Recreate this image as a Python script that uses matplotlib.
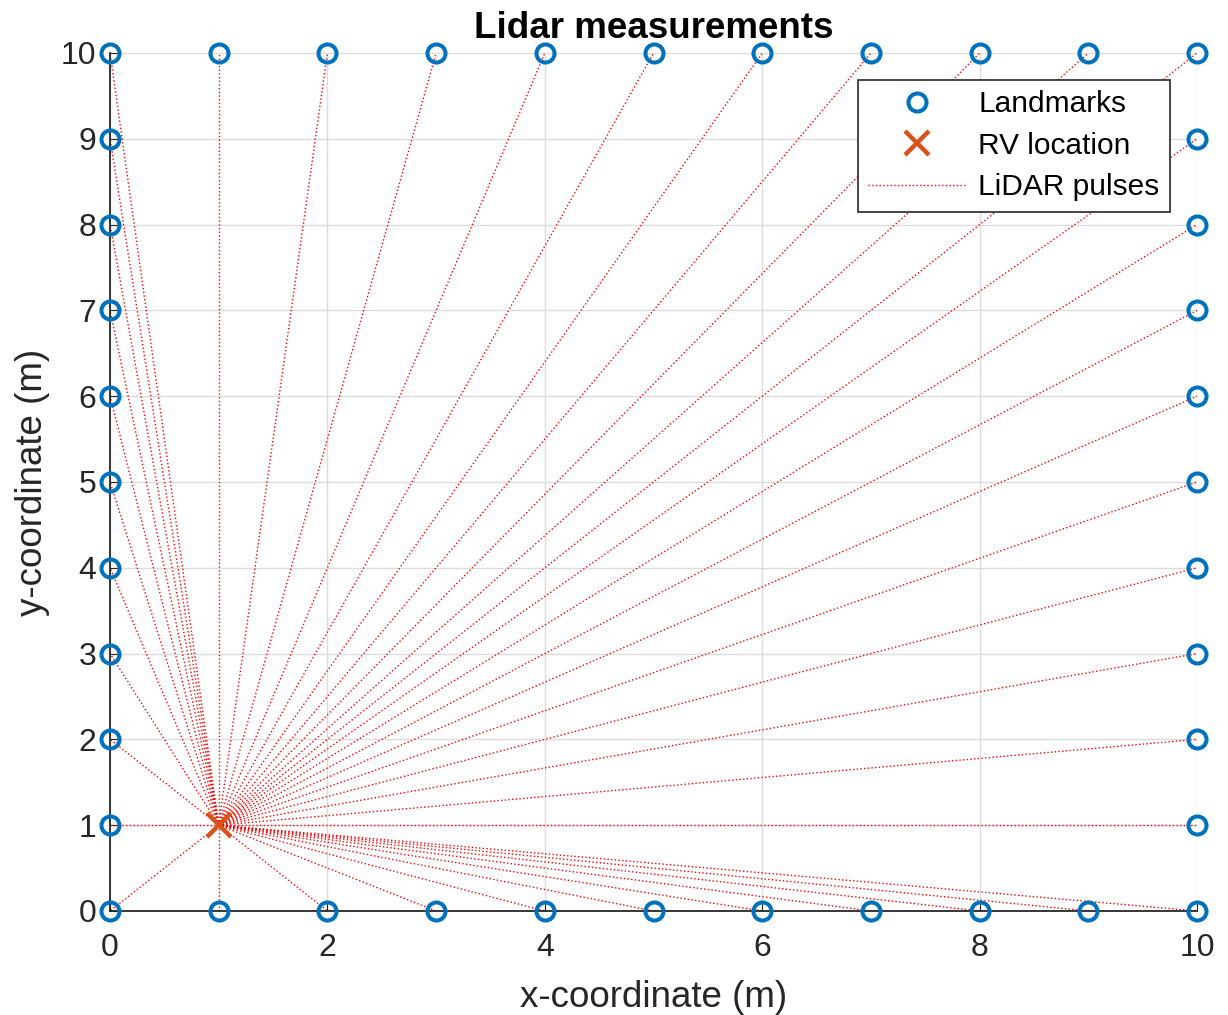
import matplotlib
matplotlib.use("Agg")
import matplotlib.pyplot as plt

plt.rcParams["font.family"] = ["Liberation Sans", "DejaVu Sans"]

# Landmark positions around the square perimeter
lm_x = [0, 1, 2, 3, 4, 5, 6, 7, 8, 9, 10,
        0, 1, 2, 3, 4, 5, 6, 7, 8, 9, 10,
        0, 0, 0, 0, 0, 0, 0, 0, 0,
        10, 10, 10, 10, 10, 10, 10, 10, 10]
lm_y = [0, 0, 0, 0, 0, 0, 0, 0, 0, 0, 0,
        10, 10, 10, 10, 10, 10, 10, 10, 10, 10, 10,
        1, 2, 3, 4, 5, 6, 7, 8, 9,
        1, 2, 3, 4, 5, 6, 7, 8, 9]

# Vehicle location
rv_x = 1
rv_y = 1

fig = plt.figure(figsize=(12.28, 10.15), dpi=100)
ax = fig.add_axes([0.0896, 0.1025, 0.8852, 0.8453])

# Lidar pulses from vehicle to each landmark
for i, (x, y) in enumerate(zip(lm_x, lm_y)):
    ax.plot([rv_x, x], [rv_y, y], ":", color="red", linewidth=1.0,
            label="LiDAR pulses" if i == 0 else None, zorder=2)

ax.plot(lm_x, lm_y, "o", color="#0072BD", markerfacecolor="none",
        markersize=13, markeredgewidth=2.9, label="Landmarks", clip_on=False, zorder=4)
ax.plot([rv_x], [rv_y], "x", color="#D95319", markersize=17,
        markeredgewidth=3.2, label="RV location", clip_on=False, zorder=5)

ax.set_xlim(0, 10)
ax.set_ylim(0, 10)
ax.set_xticks(range(0, 11, 2))
ax.set_yticks(range(0, 11))
ax.tick_params(labelsize=23, direction="in", length=6, colors="#262626")
ax.tick_params(axis="x", pad=16)
ax.tick_params(axis="y", pad=10)
ax.grid(True, color="#dcdcdc", linewidth=1)
ax.set_axisbelow(True)
for side in ["top", "right"]:
    ax.spines[side].set_visible(False)
for side in ["left", "bottom"]:
    ax.spines[side].set_color("#262626")
    ax.spines[side].set_linewidth(1.3)

ax.set_xlabel("x-coordinate (m)", fontsize=26.5, color="#262626", labelpad=12)
ax.set_ylabel("y-coordinate (m)", fontsize=26.5, color="#262626", labelpad=8)
ax.set_title("Lidar measurements", fontsize=26.5, fontweight="bold", pad=11)

handles, labels = ax.get_legend_handles_labels()
order = [1, 2, 0]
leg = ax.legend([handles[i] for i in order], [labels[i] for i in order],
                loc="upper right", fontsize=21.5, fancybox=False, framealpha=1,
                edgecolor="#262626", borderaxespad=0.9, handlelength=3.3,
                handletextpad=0.4, borderpad=0.35, labelspacing=0.45)
leg.get_frame().set_linewidth(1.2)

fig.savefig("out.png", dpi=100)
